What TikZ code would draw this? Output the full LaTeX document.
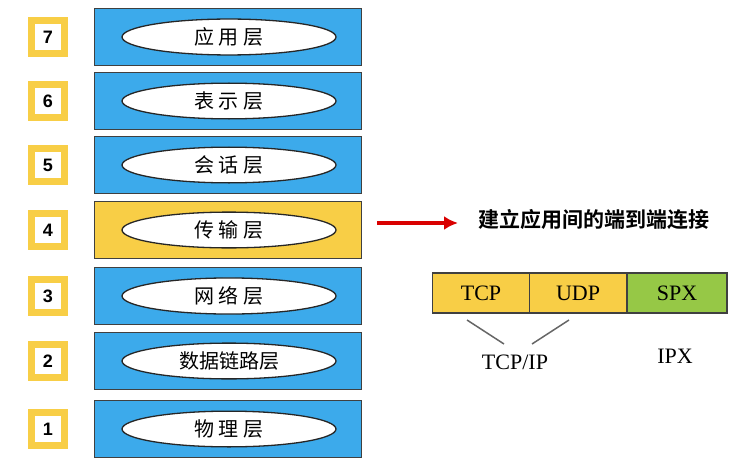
\documentclass[tikz,border=0pt]{standalone}
\usepackage{fontspec}
\usetikzlibrary{shapes.geometric,arrows.meta}
\setmainfont{Liberation Serif}
\newfontfamily\cjk{Noto Sans CJK SC}
\newfontfamily\cjkb{Noto Sans CJK SC Bold}
\newfontfamily\numf{Liberation Sans}
\definecolor{sky}{RGB}{60,170,235}
\definecolor{gold}{RGB}{248,206,70}
\definecolor{lime}{RGB}{150,200,70}
\begin{document}
\begin{tikzpicture}[x=1pt,y=-1pt,
 layer/.style={draw=black!75,line width=1.2pt,minimum width=267pt,minimum height=57pt,inner sep=0},
 oval/.style={ellipse,draw=black!85,fill=white,line width=1.3pt,minimum width=214pt,minimum height=34pt,font=\cjk\fontsize{20}{20}\selectfont},
 num/.style={draw=gold,line width=7pt,fill=white,minimum size=33pt,inner sep=0,font=\numf\bfseries\fontsize{18}{18}\selectfont},
 prot/.style={draw=black!75,line width=1.2pt,minimum height=40pt,minimum width=97pt,inner sep=0,font=\fontsize{22}{22}\selectfont}]
\useasboundingbox (0,0) rectangle (751,468);
\foreach \n/\y/\t/\c in {7/37/{应 用 层}/sky,6/101/{表 示 层}/sky,5/165/{会 话 层}/sky,4/230/{传 输 层}/gold,3/296/{网 络 层}/sky,2/361/{数据链路层}/sky,1/429/{物 理 层}/sky}{
 \node[num] (n\n) at (48,\y) {\n};
 \node[layer,fill=\c] (l\n) at (228,\y) {};
 \node[oval] (o\n) at (229,\y) {\t};
}
\node[font=\cjkb\fontsize{21}{21}\selectfont,anchor=west,inner sep=0] (t) at (478,219) {建立应用间的端到端连接};
\coordinate (a0) at (377,223);
\coordinate (a1) at (458,223);
\draw[red!85!black,line width=3.5pt,-{Latex[length=14pt,width=14pt]}] (a0) -- (a1);
\node[prot,fill=gold] (tcp) at (481,293) {TCP};
\node[prot,fill=gold] (udp) at (578,293) {UDP};
\node[prot,fill=lime,minimum width=100pt] (spx) at (677,293) {SPX};
\node[font=\fontsize{22}{22}\selectfont] (tip) at (515,362) {TCP/IP};
\node[font=\fontsize{22}{22}\selectfont] (ipx) at (675,356) {IPX};
\coordinate (c1) at (467,320); \coordinate (c2) at (504,344);
\coordinate (c3) at (569,320); \coordinate (c4) at (532,344);
\draw[black!60,line width=1.5pt] (c1) -- (c2) (c3) -- (c4);
\end{tikzpicture}
\end{document}
